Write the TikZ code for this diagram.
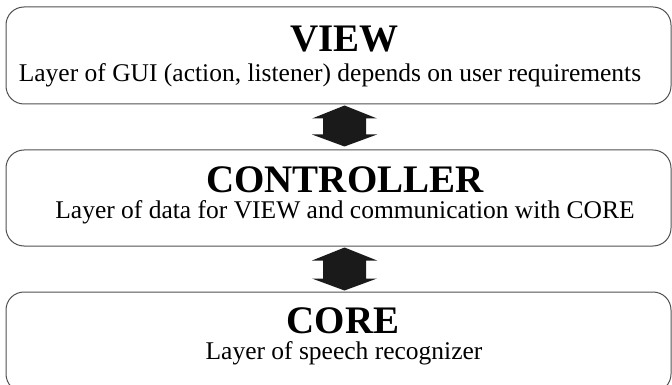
\documentclass[tikz,border=0pt]{standalone}
\usepackage{fontspec}
\setmainfont{Liberation Serif}
\usepackage{tikz}
\usetikzlibrary{calc,positioning}
\definecolor{framegray}{HTML}{505050}
\definecolor{arrowblack}{HTML}{1A1A1A}
\tikzset{layerbox/.style={draw=framegray,line width=1pt,rounded corners=18pt,minimum width=665pt,inner sep=0},
    layertitle/.style={anchor=base,inner sep=0,font=\fontsize{39}{41}\selectfont\bfseries},
    layertext/.style={anchor=base,inner sep=0,font=\fontsize{25.5}{27}\selectfont},
    fatarrow/.style={fill=arrowblack}
}
\newcommand{\fatarrow}[2]
{
% args: (upper tip, lower tip)
    \fill [fatarrow] let \p1=(#1), \p2=(#2) in
        (\p1) -- (\x1+32.5pt,\y1-13pt) -- (\x1+21.5pt,\y1-13pt) -- (\x2+21.5pt,\y2+12pt)
        -- (\x2+32.5pt,\y2+12pt) -- (\p2) -- (\x2-32.5pt,\y2+12pt) -- (\x2-21.5pt,\y2+12pt)
        -- (\x1-21.5pt,\y1-13pt) -- (\x1-32.5pt,\y1-13pt) -- cycle;
}
\begin{document}
\begin{tikzpicture}[x=1pt,y=-1pt]

\clip (0,0) rectangle (672,385);

%% the three layers
\node (view) at (338.5,55.5) [layerbox,minimum height=97pt] {};
\node (ctrl) at (338.5,198) [layerbox,minimum height=96pt] {};
\node (core) at (338.5,342) [layerbox,minimum height=100pt] {};

\node (viewtitle) at (344.5,52) [layertitle] {VIEW};
\node (viewtext) at (330,82) [layertext] {Layer of GUI (action, listener) depends on user requirements};

\node (ctrltitle) at (345,193) [layertitle] {CONTROLLER};
\node (ctrltext) at (345,218) [layertext] {Layer of data for VIEW and communication with CORE};

\node (coretitle) at (343,333) [layertitle] {CORE};
\node (coretext) at (344,359) [layertext] {Layer of speech recognizer};

%% links between layers
\coordinate (viewlow) at ([xshift=6pt,yshift=-1pt]view.south);
\coordinate (ctrlhigh) at ([xshift=6pt,yshift=3pt]ctrl.north);
\coordinate (ctrllow) at ([xshift=6pt,yshift=-1pt]ctrl.south);
\coordinate (corehigh) at ([xshift=6pt,yshift=1pt]core.north);

\fatarrow{viewlow}{ctrlhigh}
\fatarrow{ctrllow}{corehigh}

\end{tikzpicture}
\end{document}
